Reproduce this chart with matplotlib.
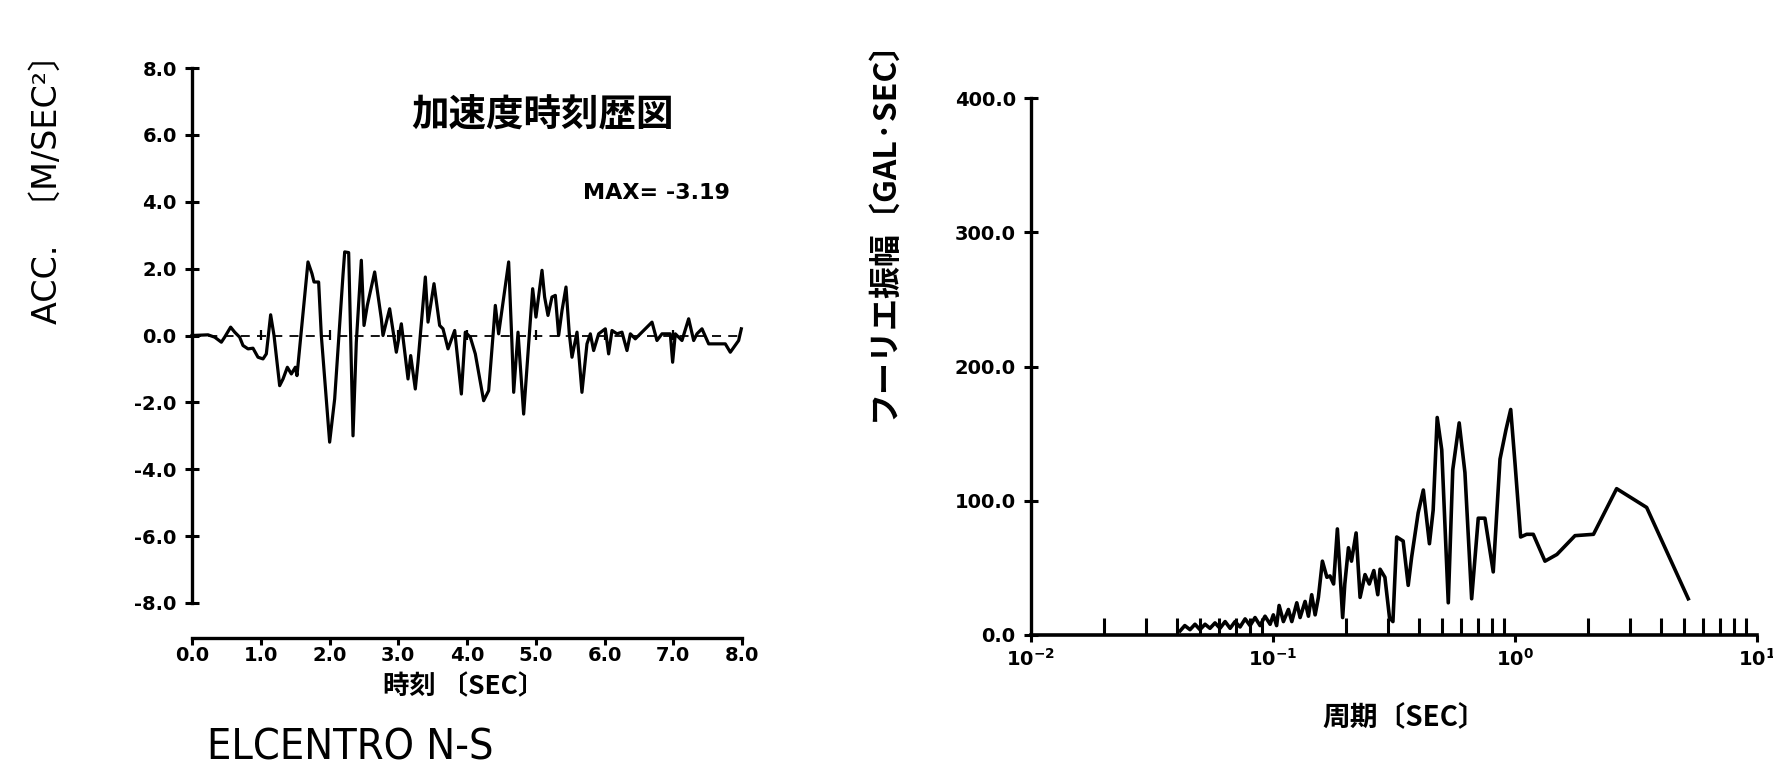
import numpy as np
import matplotlib.pyplot as plt
from matplotlib import font_manager
from matplotlib.ticker import FixedLocator, LogLocator, NullFormatter

plt.rcParams['font.family'] = ['DejaVu Sans', 'Noto Sans CJK JP']
CJK = ['Noto Sans CJK JP', 'DejaVu Sans']
LATIN = ['DejaVu Sans', 'Noto Sans CJK JP']

# narrower lettering for the caption, if a condensed face is there
faces = font_manager.fontManager.ttflist
if any(f.name == 'Liberation Sans Narrow' for f in faces):
    captionFont, captionStretch, captionSize = ['Liberation Sans Narrow'], 'normal', 33
elif any(f.name == 'DejaVu Sans' and f.stretch == 'condensed' for f in faces):
    captionFont, captionStretch, captionSize = ['DejaVu Sans'], 'condensed', 31
else:
    captionFont, captionStretch, captionSize = ['DejaVu Sans'], 'normal', 29

# ========== data ==========
# acceleration time history (sec, m/s^2)
timeSec = [0.000, 0.233, 0.330, 0.427, 0.475, 0.562, 0.621, 0.693, 0.742, 0.815,
           0.887, 0.960, 1.033, 1.081, 1.144, 1.193, 1.275, 1.324, 1.387, 1.445,
           1.503, 1.527, 1.687, 1.745, 1.775, 1.842, 1.881, 2.002, 2.075, 2.196,
           2.221, 2.279, 2.342, 2.390, 2.463, 2.502, 2.550, 2.657, 2.754, 2.778,
           2.875, 2.972, 3.045, 3.142, 3.181, 3.248, 3.287, 3.394, 3.433, 3.520,
           3.602, 3.651, 3.724, 3.821, 3.918, 3.975, 4.048, 4.121, 4.242, 4.315,
           4.388, 4.412, 4.460, 4.606, 4.654, 4.679, 4.742, 4.824, 4.897, 4.955,
           5.003, 5.091, 5.129, 5.178, 5.236, 5.285, 5.333, 5.382, 5.440, 5.488,
           5.527, 5.600, 5.672, 5.745, 5.794, 5.842, 5.915, 6.012, 6.060, 6.109,
           6.182, 6.254, 6.327, 6.376, 6.448, 6.545, 6.691, 6.763, 6.836, 6.957,
           6.991, 7.030, 7.127, 7.224, 7.297, 7.345, 7.418, 7.515, 7.757, 7.830,
           7.951, 7.990]
acc = [0.00, 0.02, -0.05, -0.20, -0.05, 0.25, 0.10, -0.05, -0.30, -0.40,
       -0.38, -0.65, -0.70, -0.55, 0.62, 0.00, -1.50, -1.30, -0.95, -1.15,
       -0.95, -1.20, 2.20, 1.85, 1.60, 1.60, 0.00, -3.19, -1.90, 1.80,
       2.50, 2.48, -3.00, -0.20, 2.25, 0.30, 0.90, 1.90, 0.50, 0.00,
       0.80, -0.50, 0.35, -1.30, -0.60, -1.60, -0.80, 1.75, 0.40, 1.55,
       0.30, 0.20, -0.40, 0.15, -1.75, 0.10, -0.05, -0.55, -1.95, -1.65,
       0.25, 0.90, 0.05, 2.20, -0.25, -1.70, 0.10, -2.35, -0.25, 1.40,
       0.55, 1.95, 1.15, 0.60, 1.15, 1.20, 0.00, 0.75, 1.45, 0.05,
       -0.65, 0.10, -1.70, -0.25, 0.05, -0.45, 0.05, 0.20, -0.55, 0.15,
       0.05, 0.10, -0.45, 0.05, -0.10, 0.10, 0.40, -0.15, 0.05, 0.05,
       -0.80, 0.05, -0.15, 0.50, -0.15, 0.05, 0.20, -0.25, -0.25, -0.50,
       -0.15, 0.20]

# Fourier amplitude spectrum (sec, gal*sec)
period = [0.0413, 0.0432, 0.0454, 0.0476, 0.0499, 0.0524, 0.0549, 0.0576, 0.0604, 0.0634,
          0.0665, 0.0697, 0.0731, 0.0767, 0.0804, 0.0843, 0.0884, 0.0927, 0.0973, 0.1003,
          0.1035, 0.1060, 0.1104, 0.1158, 0.1196, 0.1254, 0.1294, 0.1357, 0.1401, 0.1445,
          0.1493, 0.1540, 0.1600, 0.1670, 0.1720, 0.1780, 0.1845, 0.1890, 0.1940, 0.1980,
          0.2050, 0.2110, 0.2205, 0.2290, 0.2400, 0.2500, 0.2610, 0.2710, 0.2770, 0.2900,
          0.3030, 0.3130, 0.3245, 0.3450, 0.3620, 0.3740, 0.3980, 0.4180, 0.4430, 0.4590,
          0.4770, 0.4980, 0.5300, 0.5530, 0.5880, 0.6210, 0.6620, 0.7050, 0.7510, 0.8130,
          0.8670, 0.9180, 0.9600, 1.000, 1.055, 1.117, 1.190, 1.330, 1.490, 1.770,
          2.110, 2.630, 3.500, 5.200]
amp = [3, 7, 4, 8, 4, 8, 5, 9, 5, 10,
       5, 10, 6, 12, 7, 13, 7, 14, 8, 15,
       7, 22, 10, 19, 10, 24, 13, 25, 14, 30,
       15, 28, 55, 43, 44, 38, 79, 48, 13, 38,
       65, 55, 76, 28, 45, 38, 48, 30, 49, 43,
       13, 10, 73, 70, 37, 58, 91, 108, 68, 93,
       162, 138, 24, 123, 158, 121, 27, 87, 87, 47,
       131, 153, 168, 128, 73, 75, 75, 55, 60, 74,
       75, 109, 95, 27]

accTicks = [-8, -6, -4, -2, 0, 2, 4, 6, 8]
timeTicks = [0, 1, 2, 3, 4, 5, 6, 7, 8]
ampTicks = [0, 100, 200, 300, 400]
periodTicks = [0.01, 0.1, 1, 10]
periodLabels = [r'$\mathbf{10^{-2}}$', r'$\mathbf{10^{-1}}$', r'$\mathbf{10^{0}}$', r'$\mathbf{10^{1}}$']

# ========== figure ==========
W, H = 1773, 778
fig = plt.figure(figsize=(W/100, H/100), dpi=100)

def box(x0, y0, x1, y1):
    return [x0/W, 1-y1/H, (x1-x0)/W, (y1-y0)/H]

def px(x, y):
    return x/W, 1-y/H

# ---------- acceleration ----------
ax1 = fig.add_axes(box(192, 68, 742, 603))
ax1.plot(timeSec, acc, color='black', lw=2.3, clip_on=False, zorder=3)
ax1.axhline(0, color='black', lw=1.3, ls=(0, (5, 4)), zorder=2)
ax1.set_xlim(0, 8)
ax1.set_ylim(-8, 8)
for s in ['top', 'right']:
    ax1.spines[s].set_visible(False)
ax1.spines['left'].set_linewidth(2.4)
ax1.spines['bottom'].set_linewidth(2.4)
ax1.spines['bottom'].set_position(('outward', 25))
ax1.yaxis.set_major_locator(FixedLocator(accTicks))
ax1.set_yticklabels(['%.1f' % v for v in accTicks], fontweight='bold')
ax1.xaxis.set_major_locator(FixedLocator(timeTicks))
ax1.set_xticklabels(['%.1f' % v for v in timeTicks], fontweight='bold')
ax1.tick_params(axis='y', direction='inout', length=10, width=2.2, labelsize=14, pad=6)
ax1.tick_params(axis='x', direction='out', length=5, width=2.2, labelsize=14, pad=1)

# small second marks on the zero line
zeroAxis = ax1.secondary_xaxis(0.5)
for s in zeroAxis.spines.values():
    s.set_visible(False)
zeroAxis.xaxis.set_major_locator(FixedLocator(timeTicks[1:-1]))
zeroAxis.xaxis.set_major_formatter(NullFormatter())
zeroAxis.tick_params(direction='inout', length=7, width=1.6,
                     labeltop=False, labelbottom=False)

fig.text(*px(47, 181), 'ACC.  〔M/SEC²〕', rotation=90, ha='center', va='center',
         fontsize=24, family=LATIN)
fig.text(*px(543, 114), '加速度時刻歴図', ha='center', va='center', fontsize=27,
         fontweight='bold', family=CJK)
fig.text(*px(656, 193), 'MAX= -3.19', ha='center', va='center', fontsize=16,
         fontweight='bold')
fig.text(*px(464, 687), '時刻 〔SEC〕', ha='center', va='center', fontsize=19,
         fontweight='bold', family=CJK)
fig.text(*px(207, 747), 'ELCENTRO N-S', ha='left', va='center',
         fontsize=captionSize, family=captionFont, fontstretch=captionStretch)

# ---------- Fourier spectrum ----------
ax2 = fig.add_axes(box(1031, 98, 1757, 635))
ax2.plot(period, amp, color='black', lw=2.6, zorder=3)
ax2.set_xscale('log')
ax2.set_xlim(0.01, 10)
ax2.set_ylim(0, 400)
for s in ['top', 'right']:
    ax2.spines[s].set_visible(False)
ax2.spines['left'].set_linewidth(2.4)
ax2.spines['bottom'].set_linewidth(2.6)
ax2.yaxis.set_major_locator(FixedLocator(ampTicks))
ax2.set_yticklabels(['%.1f' % v for v in ampTicks], fontweight='bold')
ax2.xaxis.set_major_locator(FixedLocator(periodTicks))
ax2.set_xticklabels(periodLabels)
ax2.xaxis.set_minor_locator(LogLocator(base=10, subs=np.arange(2, 10)))
ax2.xaxis.set_minor_formatter(NullFormatter())
ax2.tick_params(axis='y', direction='inout', length=10, width=2.2, labelsize=14, pad=6)
ax2.tick_params(axis='x', which='major', direction='out', length=5, width=2.2,
                labelsize=14, pad=4)
ax2.tick_params(axis='x', which='minor', direction='in', length=12, width=2.2)

fig.text(*px(884, 222), 'フーリエ振幅〔GAL·SEC〕', rotation=90, ha='center', va='center',
         fontsize=23, fontweight='bold', family=CJK)
fig.text(*px(1404, 717), '周期〔SEC〕', ha='center', va='center', fontsize=20,
         fontweight='bold', family=CJK)

fig.savefig('out.png', dpi=100)
